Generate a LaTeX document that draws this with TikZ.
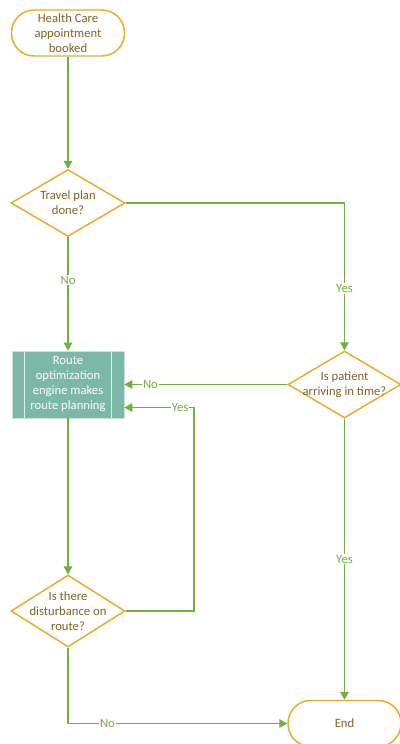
\documentclass[tikz,border=0pt]{standalone}
\usepackage{fontspec}
\setmainfont{Carlito}
\usetikzlibrary{shapes.geometric,arrows.meta,calc}
\definecolor{lgreen}{RGB}{112,176,64}
\definecolor{gold}{RGB}{232,172,40}
\definecolor{brownt}{RGB}{128,100,36}
\definecolor{tealf}{RGB}{124,184,168}
\begin{document}
\begin{tikzpicture}[x=0.75pt,y=-0.75pt,
  txt/.style={font=\fontsize{9.5}{11.25}\selectfont, text=brownt, align=center},
  term/.style={draw=gold, line width=1.1pt, fill=white, rounded corners=17pt,
    minimum width=84.75pt, minimum height=34.5pt, inner sep=0pt, txt},
  dec/.style={diamond, draw=gold, line width=1.1pt, fill=white, inner sep=0pt,
    minimum width=85.5pt, minimum height=50.25pt},
  proc/.style={rectangle, draw=white!60!tealf, line width=0.6pt, fill=tealf,
    minimum width=84pt, minimum height=50.25pt, inner sep=0pt,
    font=\fontsize{9.5}{11.25}\selectfont, text=white, align=center},
  arr/.style={draw=lgreen, line width=0.8pt, -{Triangle[length=6pt,width=6.5pt]}},
  lab/.style={font=\fontsize{9.5}{11.25}\selectfont, text=lgreen, fill=white, inner sep=0.8pt}
]
\useasboundingbox (0,0) rectangle (400,744);
\fill[white] (0,0) rectangle (400,744);

\node[term] (s) at (68,33) {Health Care\\appointment\\booked};
\node[dec, label={[txt]center:Travel plan\\done?}] (d1) at (68,203) {};
\node[proc] (p) at (68,384.5) {Route\\optimization\\engine makes\\route planning};
\draw[white!75!tealf, line width=0.8pt] ([xshift=9.75pt]p.north west) -- ([xshift=9.75pt]p.south west)
  ([xshift=-9.75pt]p.north east) -- ([xshift=-9.75pt]p.south east);
\node[dec, minimum width=84.75pt, label={[txt]center:Is patient\\arriving in time?}] (d2) at (344.5,384.5) {};
\node[dec, minimum height=54pt, label={[txt]center:Is there\\disturbance on\\route?}] (d3) at (68,611) {};
\node[term] (e) at (344.5,723.5) {End};

\coordinate (pin) at ([yshift=-17.25pt]p.east);
\coordinate (bend) at (194,611);

\draw[arr] (s) -- (d1);
\draw[arr] (d1.south) -- node[lab,pos=0.38]{No} (p.north);
\draw[arr] (d1.east) -| node[lab,pos=0.79]{Yes} (d2.north);
\draw[arr] (d2.west) -- node[lab,pos=0.84]{No} (p.east);
\draw[arr] (d3.east) -- (bend) |- node[lab,pos=0.6]{Yes} (pin);
\draw[arr] (p.south) -- (d3.north);
\draw[arr] (d3.south) |- node[lab,pos=0.59]{No} (e.west);
\draw[arr] (d2.south) -- node[lab,pos=0.5]{Yes} (e.north);
\end{tikzpicture}
\end{document}
